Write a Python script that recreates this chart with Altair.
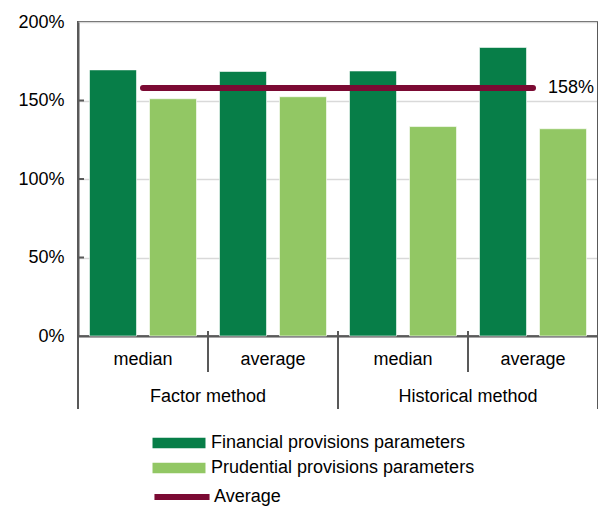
import altair as alt
import pandas as pd

groups = ["Factor method", "Factor method", "Historical method", "Historical method"]
stats = ["median", "average", "median", "average"]
financial = [1.695, 1.685, 1.688, 1.838]
prudential = [1.511, 1.524, 1.334, 1.320]
average_value = 1.58
series = ["Financial provisions parameters", "Prudential provisions parameters"]
line_series = "Average"
y_ticks = [0, 0.5, 1, 1.5, 2]
group_names = ["Factor method", "Historical method"]

keys = [f"{g}|{s}" for g, s in zip(groups, stats)]

bars_df = pd.DataFrame(
    [{"key": k, "series": series[0], "value": v} for k, v in zip(keys, financial)]
    + [{"key": k, "series": series[1], "value": v} for k, v in zip(keys, prudential)]
)
line_df = pd.DataFrame({"key": keys, "value": [average_value] * len(keys), "series": [line_series] * len(keys)})

FONT = "Liberation Sans"
AX = "#595959"
DARK = "#077e48"
LIGHT = "#92c764"
MAROON = "#7b0a33"

x_scale = alt.Scale(domain=keys, paddingInner=0, paddingOuter=0)
y_scale = alt.Scale(domain=[0, 2], nice=False)

# legend symbol: r = sqrt(size)/2 = 10.6 -> rect 53 x 10.6
SYM_SIZE = 449
BAR_PATH = "M-2.5,-0.5H2.5V0.5H-2.5Z"
LINE_PATH = "M-2.6,0H2.6"

bars = alt.Chart(bars_df).mark_bar(stroke="white", strokeWidth=0.6).encode(
    x=alt.X("key:N", scale=x_scale, sort=keys,
            axis=alt.Axis(title=None, labelExpr="split(datum.label, '|')[1]", labelAngle=0,
                          ticks=False, labelPadding=14, labelFontSize=18, labelFont=FONT,
                          labelColor="#000000", domainColor=AX, domainWidth=2, grid=False)),
    xOffset=alt.XOffset("series:N", sort=series,
                        scale=alt.Scale(domain=series, paddingInner=0.2167, paddingOuter=0.1917)),
    y=alt.Y("value:Q", scale=y_scale,
            axis=alt.Axis(title=None, values=y_ticks, format=".0%", ticks=False, labelPadding=14,
                          labelFontSize=18, labelFont=FONT, labelColor="#000000",
                          domainColor=AX, domainWidth=2, grid=True, gridColor="#d9d9d9",
                          gridWidth=1.5)),
    color=alt.Color("series:N", sort=series,
                    scale=alt.Scale(domain=series, range=[DARK, LIGHT]),
                    legend=alt.Legend(title=None, orient="none", legendX=90, legendY=410,
                                      symbolType=BAR_PATH, symbolSize=SYM_SIZE,
                                      symbolStrokeWidth=0, labelFontSize=18, labelFont=FONT,
                                      labelColor="#000000", rowPadding=5, labelOffset=21,
                                      labelLimit=400, padding=0)),
)

line = alt.Chart(line_df).mark_line(strokeWidth=6, strokeCap="round").encode(
    x=alt.X("key:N", scale=x_scale, sort=keys),
    y=alt.Y("value:Q", scale=y_scale),
    stroke=alt.Stroke("series:N", scale=alt.Scale(domain=[line_series], range=[MAROON]),
                      legend=alt.Legend(title=None, orient="none", legendX=90, legendY=461,
                                        symbolType=LINE_PATH, symbolSize=SYM_SIZE,
                                        symbolStrokeWidth=6, labelFontSize=18, labelFont=FONT,
                                        labelColor="#000000", labelOffset=18, labelLimit=400,
                                        padding=0)),
)

line_label = alt.Chart(line_df).transform_filter(
    alt.datum.key == keys[-1]
).mark_text(align="left", baseline="middle", dx=15, fontSize=18, font=FONT, color="#000000").encode(
    x=alt.X("key:N", scale=x_scale, sort=keys),
    y=alt.Y("value:Q", scale=y_scale),
    text=alt.Text("value:Q", format=".0%"),
)

y_inner_ticks = alt.Chart(pd.DataFrame({"v": y_ticks[1:-1]})).mark_rule(color=AX, strokeWidth=2).encode(
    y=alt.Y("v:Q", scale=y_scale), x=alt.value(0), x2=alt.value(6)
)

sub_div = alt.Chart(pd.DataFrame({"key": [keys[1], keys[3]]})).mark_rule(color=AX, strokeWidth=2).encode(
    x=alt.X("key:N", scale=x_scale, sort=keys, bandPosition=0),
    y=alt.value(309), y2=alt.value(350),
)
grp_div = alt.Chart(pd.DataFrame({"key": [keys[0], keys[2]]})).mark_rule(color=AX, strokeWidth=2).encode(
    x=alt.X("key:N", scale=x_scale, sort=keys, bandPosition=0),
    y=alt.value(309), y2=alt.value(387),
)
right_div = alt.Chart(pd.DataFrame({"key": [keys[3]]})).mark_rule(color=AX, strokeWidth=2).encode(
    x=alt.X("key:N", scale=x_scale, sort=keys, bandPosition=1),
    y=alt.value(0), y2=alt.value(387),
)

grp_labels = alt.Chart(pd.DataFrame({"key": [keys[1], keys[3]], "group": group_names})).mark_text(
    fontSize=18, font=FONT, color="#000000", baseline="middle", align="center"
).encode(
    x=alt.X("key:N", scale=x_scale, sort=keys, bandPosition=0),
    y=alt.value(375),
    text="group:N",
)

chart = alt.layer(
    bars, y_inner_ticks, line, line_label, sub_div, grp_div, right_div, grp_labels
).properties(
    width=520, height=314,
    autosize=alt.AutoSizeParams(type="none"),
    padding={"left": 70, "top": 14, "right": 0, "bottom": 171},
).configure_view(stroke=AX, strokeWidth=2)

chart.save("out.html", embed_options={"renderer": "svg", "actions": False})
